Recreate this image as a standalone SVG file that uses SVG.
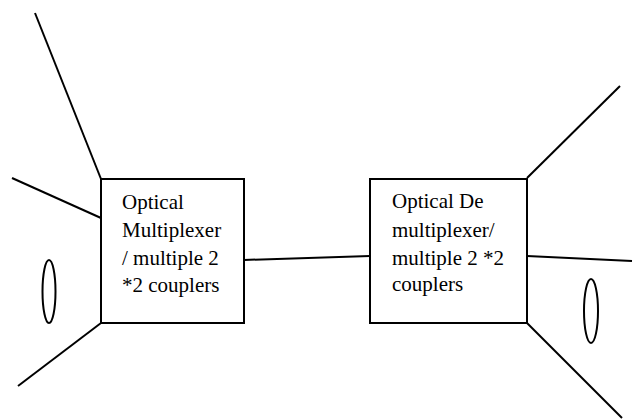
<svg xmlns="http://www.w3.org/2000/svg" width="638" height="419" viewBox="0 0 638 419">
  <style>
    .box { fill: #fff; stroke: #000; stroke-width: 2; }
    .wire { fill: none; stroke: #000; stroke-width: 2; }
    .label { font-family: "Liberation Serif", "Times New Roman", serif; font-size: 21px; fill: #000; }
  </style>
  <rect width="638" height="419" fill="#fff"/>
  <g id="connectors">
    <!-- input fibres into the multiplexer -->
    <line class="wire" x1="35" y1="13" x2="101" y2="179"/>
    <line class="wire" x1="12" y1="178" x2="101" y2="218"/>
    <line class="wire" x1="18" y1="386" x2="101" y2="323"/>
    <ellipse class="wire" cx="49" cy="291.5" rx="6.5" ry="31.5"/>
    <!-- trunk link -->
    <line class="wire" x1="244" y1="260" x2="370" y2="256"/>
    <!-- output fibres from the demultiplexer -->
    <line class="wire" x1="527" y1="178" x2="620" y2="86"/>
    <line class="wire" x1="527" y1="256" x2="632" y2="261"/>
    <line class="wire" x1="527" y1="323" x2="622" y2="418"/>
    <ellipse class="wire" cx="591" cy="311" rx="7" ry="32"/>
  </g>
  <g id="mux">
    <rect class="box" x="101" y="179" width="143" height="144"/>
    <text class="label" x="122" y="209">Optical</text>
    <text class="label" x="122" y="237">Multiplexer</text>
    <text class="label" x="122" y="265">/ multiple 2</text>
    <text class="label" x="122" y="292">*2 couplers</text>
  </g>
  <g id="demux">
    <rect class="box" x="370" y="179" width="157" height="144"/>
    <text class="label" x="392" y="208">Optical De</text>
    <text class="label" x="392" y="237">multiplexer/</text>
    <text class="label" x="392" y="265">multiple 2 *2</text>
    <text class="label" x="392" y="291">couplers</text>
  </g>
</svg>
